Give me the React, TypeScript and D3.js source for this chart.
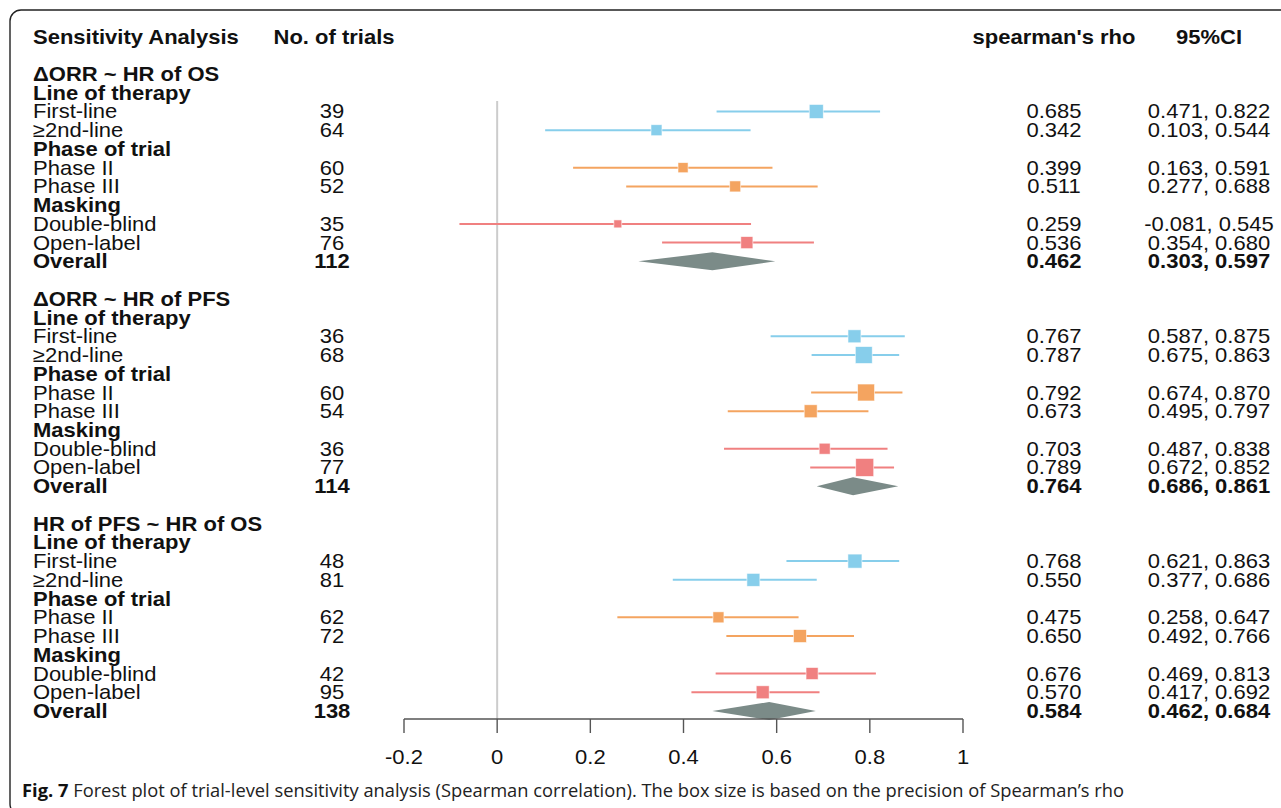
import * as d3 from "d3";

// sections of the forest plot
const sectionTitles = ["ΔORR ~ HR of OS", "ΔORR ~ HR of PFS", "HR of PFS ~ HR of OS"];
const groupTitles = ["Line of therapy", "Phase of trial", "Masking"];
const subgroupNames = ["First-line", "≥2nd-line", "Phase II", "Phase III", "Double-blind", "Open-label"];
const groupColors = ["#87CEEB", "#F4A460", "#F08080"];

const trials = [
  [39, 64, 60, 52, 35, 76],
  [36, 68, 60, 54, 36, 77],
  [48, 81, 62, 72, 42, 95],
];
const rho = [
  [0.685, 0.342, 0.399, 0.511, 0.259, 0.536],
  [0.767, 0.787, 0.792, 0.673, 0.703, 0.789],
  [0.768, 0.55, 0.475, 0.65, 0.676, 0.57],
];
const lower = [
  [0.471, 0.103, 0.163, 0.277, -0.081, 0.354],
  [0.587, 0.675, 0.674, 0.495, 0.487, 0.672],
  [0.621, 0.377, 0.258, 0.492, 0.469, 0.417],
];
const upper = [
  [0.822, 0.544, 0.591, 0.688, 0.545, 0.68],
  [0.875, 0.863, 0.87, 0.797, 0.838, 0.852],
  [0.863, 0.686, 0.647, 0.766, 0.813, 0.692],
];
// relative precision (box size)
const precision = [
  [0.78, 0.61, 0.56, 0.61, 0.44, 0.67],
  [0.72, 0.94, 0.94, 0.72, 0.61, 1.0],
  [0.78, 0.72, 0.61, 0.72, 0.67, 0.72],
];
const overallTrials = [112, 114, 138];
const overallRho = [0.462, 0.764, 0.584];
const overallLower = [0.303, 0.686, 0.462];
const overallUpper = [0.597, 0.861, 0.684];

const xTicks = [-0.2, 0, 0.2, 0.4, 0.6, 0.8, 1];

type Row =
  | { kind: "title" | "group"; text: string }
  | { kind: "sub"; text: string; n: number; est: number; lo: number; hi: number; w: number; color: string }
  | { kind: "overall"; n: number; est: number; lo: number; hi: number }
  | { kind: "blank" };

const rows: Row[] = [];
sectionTitles.forEach((title, s) => {
  rows.push({ kind: "title", text: title });
  groupTitles.forEach((g, gi) => {
    rows.push({ kind: "group", text: g });
    for (let k = gi * 2; k < gi * 2 + 2; k++) {
      rows.push({
        kind: "sub",
        text: subgroupNames[k],
        n: trials[s][k],
        est: rho[s][k],
        lo: lower[s][k],
        hi: upper[s][k],
        w: precision[s][k],
        color: groupColors[gi],
      });
    }
  });
  rows.push({ kind: "overall", n: overallTrials[s], est: overallRho[s], lo: overallLower[s], hi: overallUpper[s] });
  if (s < sectionTitles.length - 1) rows.push({ kind: "blank" });
});

const FONT = "'Liberation Sans', Arial, sans-serif";
const FS = 20;
const SX = 1.1;

const T = ({ x, y, anchor = "start", bold = false, children }: any) => (
  <text
    transform={`translate(${x},${y}) scale(${SX},1)`}
    textAnchor={anchor}
    fontFamily={FONT}
    fontSize={FS}
    fontWeight={bold ? "bold" : "normal"}
    fill="#111"
  >
    {children}
  </text>
);

export default function App() {
  const width = 1281;
  const height = 808;

  const x = d3.scaleLinear().domain([-0.2, 1]).range([404, 963]);
  const y = d3.scaleLinear().domain([0, rows.length - 1]).range([74, 711]);
  const box = d3.scaleLinear().domain([0, 1]).range([0, 18]);

  const axisY = 719;
  const nCol = 332;
  const rhoCol = 1054;
  const ciCol = 1209;
  const dy = 7;

  return (
    <svg
      width={width}
      height={height}
      style={{ position: "absolute", left: 0, top: 0, background: "#fff" }}
    >
      <rect x={10} y={10} width={1300} height={805} rx={11} fill="none" stroke="#222" strokeWidth={1.4} />

      {/* headers */}
      <T x={33} y={44} bold>Sensitivity Analysis</T>
      <T x={334} y={44} bold anchor="middle">No. of trials</T>
      <T x={rhoCol} y={44} bold anchor="middle">spearman's rho</T>
      <T x={ciCol} y={44} bold anchor="middle">95%CI</T>

      {/* reference line at 0 */}
      <line x1={x(0)} x2={x(0)} y1={101} y2={axisY} stroke="#cccccc" strokeWidth={2} />

      {rows.map((r, i) => {
        const cy = y(i);
        if (r.kind === "blank") return null;
        if (r.kind === "title" || r.kind === "group")
          return (
            <T key={i} x={33} y={cy + dy} bold>
              {r.text}
            </T>
          );
        if (r.kind === "sub") {
          const s = box(r.w);
          return (
            <g key={i}>
              <T x={33} y={cy + dy}>{r.text}</T>
              <T x={nCol} y={cy + dy} anchor="middle">{r.n}</T>
              <T x={rhoCol} y={cy + dy} anchor="middle">{r.est.toFixed(3)}</T>
              <T x={ciCol} y={cy + dy} anchor="middle">
                {`${r.lo.toFixed(3)}, ${r.hi.toFixed(3)}`}
              </T>
              <line x1={x(r.lo)} x2={x(r.hi)} y1={cy} y2={cy} stroke={r.color} strokeWidth={2} />
              <rect
                x={x(r.est) - s / 2}
                y={cy - s / 2}
                width={s}
                height={s}
                fill={r.color}
                stroke="#fff"
                strokeOpacity={0.7}
                strokeWidth={0.8}
              />
            </g>
          );
        }
        const half = 9;
        const pts = [
          [x(r.lo), cy],
          [x(r.est), cy - half],
          [x(r.hi), cy],
          [x(r.est), cy + half],
        ];
        return (
          <g key={i}>
            <T x={33} y={cy + dy} bold>Overall</T>
            <T x={nCol} y={cy + dy} bold anchor="middle">{r.n}</T>
            <T x={rhoCol} y={cy + dy} bold anchor="middle">{r.est.toFixed(3)}</T>
            <T x={ciCol} y={cy + dy} bold anchor="middle">
              {`${r.lo.toFixed(3)}, ${r.hi.toFixed(3)}`}
            </T>
            <path d={d3.line()(pts as [number, number][]) + "Z"} fill="#7B8B88" />
          </g>
        );
      })}

      {/* x axis */}
      <line x1={x(-0.2)} x2={x(1)} y1={axisY} y2={axisY} stroke="#555" strokeWidth={1.4} />
      {xTicks.map((t) => (
        <g key={t}>
          <line x1={x(t)} x2={x(t)} y1={axisY} y2={axisY + 14} stroke="#555" strokeWidth={1.4} />
          <T x={x(t)} y={764} anchor="middle">{String(t)}</T>
        </g>
      ))}

      {/* caption */}
      <text
        x={22}
        y={797}
        fontFamily="'Open Sans', 'Noto Sans', sans-serif"
        fontSize={18}
        fill="#222"
        textLength={1102}
        lengthAdjust="spacingAndGlyphs"
      >
        <tspan fontWeight="bold" fill="#111">Fig. 7</tspan>
        <tspan>{"  Forest plot of trial-level sensitivity analysis (Spearman correlation). The box size is based on the precision of Spearman’s rho"}</tspan>
      </text>
    </svg>
  );
}
